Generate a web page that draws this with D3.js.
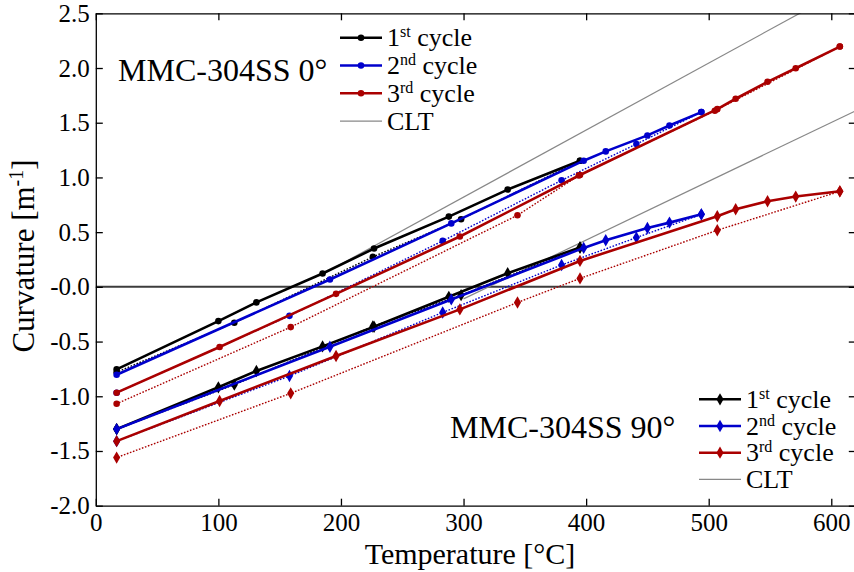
<!DOCTYPE html>
<html>
<head>
<meta charset="utf-8">
<script src="https://cdn.jsdelivr.net/npm/d3@7"></script>
<style>
  body { margin: 0; background: #fff; }
  text { font-family: "Liberation Serif", "Times New Roman", serif; fill: #000; }
</style>
</head>
<body>
<div id="chart"></div>
<script>
// Tick values / labels
let xTicks = [0, 100, 200, 300, 400, 500, 600];
let yTicks = [-2.0, -1.5, -1.0, -0.5, 0, 0.5, 1.0, 1.5, 2.0, 2.5];
let yTickLabels = ['-2.0', '-1.5', '-1.0', '-0.5', '-0.0', '0.5', '1.0', '1.5', '2.0', '2.5'];

// MMC-304SS 0° (circles)
let t0Heat1 = [17, 100, 131, 185, 227, 288, 336, 395];
let c0Heat1 = [-0.754, -0.313, -0.142, 0.122, 0.35, 0.642, 0.889, 1.153];
let t0Cool1 = [395, 298, 226, 113, 17];
let c0Cool1 = [1.153, 0.618, 0.274, -0.328, -0.78];
let t0Heat2 = [17, 191, 290, 398, 416, 450, 468, 494];
let c0Heat2 = [-0.803, 0.067, 0.58, 1.153, 1.238, 1.384, 1.475, 1.597];
let t0Cool2 = [494, 441, 380, 283, 158, 17];
let c0Cool2 = [1.597, 1.305, 0.974, 0.42, -0.265, -0.967];
let t0Heat3 = [17, 101, 196, 297, 395, 507, 522, 548, 571, 607];
let c0Heat3 = [-0.967, -0.55, -0.064, 0.46, 1.022, 1.624, 1.719, 1.874, 1.998, 2.196];
let t0Cool3 = [607, 505, 394, 344, 159, 17];
let c0Cool3 = [2.196, 1.61, 1.017, 0.654, -0.368, -1.068];
let t0Clt = [185, 620];
let c0Clt = [0.116, 2.78];

// MMC-304SS 90° (diamonds)
let t90Heat1 = [17, 100, 131, 185, 227, 288, 336, 395];
let c90Heat1 = [-1.30, -0.918, -0.769, -0.544, -0.365, -0.091, 0.125, 0.36];
let t90Cool1 = [395, 298, 226, 113, 17];
let c90Cool1 = [0.36, -0.076, -0.362, -0.894, -1.30];
let t90Heat2 = [17, 191, 290, 398, 416, 450, 468, 494];
let c90Heat2 = [-1.30, -0.547, -0.115, 0.356, 0.426, 0.538, 0.587, 0.663];
let t90Cool2 = [494, 441, 380, 283, 158, 17];
let c90Cool2 = [0.663, 0.45, 0.2, -0.234, -0.815, -1.41];
let t90Heat3 = [17, 101, 196, 297, 395, 507, 522, 548, 571, 607];
let c90Heat3 = [-1.41, -1.043, -0.632, -0.206, 0.237, 0.645, 0.709, 0.782, 0.825, 0.873];
let t90Cool3 = [607, 507, 395, 344, 159, 17];
let c90Cool3 = [0.873, 0.517, 0.077, -0.143, -0.973, -1.56];
let t90Clt = [300, 620];
let c90Clt = [-0.11, 1.61];

let legendLabels = [['1', 'st', ' cycle'], ['2', 'nd', ' cycle'], ['3', 'rd', ' cycle'], ['CLT', '', '']];

// colours
let black = '#000000';
let blue = '#0000cc';
let red = '#aa0000';
let gray = '#888888';

// Set up SVG
let svgWidth = 854;
let svgHeight = 572;
let margin = { top: 13.3, left: 95.8 };
let width = 760;
let height = 492.4;

let svg = d3.select('#chart').append('svg')
  .attr('width', svgWidth)
  .attr('height', svgHeight);

let g = svg.append('g')
  .attr('transform', `translate(${margin.left}, ${margin.top})`);

let x = d3.scaleLinear().domain([0, 620]).range([0, width]);
let y = d3.scaleLinear().domain([-2, 2.5]).range([height, 0]);

g.append('clipPath').attr('id', 'plotClip')
  .append('rect').attr('width', width).attr('height', height);

let plot = g.append('g').attr('clip-path', 'url(#plotClip)');

// zero line
plot.append('line')
  .attr('x1', 0).attr('x2', width)
  .attr('y1', y(0)).attr('y2', y(0))
  .attr('stroke', '#3c3c3c')
  .attr('stroke-width', 2);

let line = d3.line().x(d => x(d[0])).y(d => y(d[1]));
let zip = (a, b) => a.map((v, i) => [v, b[i]]);

let circleSym = d3.symbol().type(d3.symbolCircle).size(34);
let diamondSym = d3.symbol().type(d3.symbolDiamond).size(44);

function drawSeries(ts, cs, color, dotted, sym) {
  let pts = zip(ts, cs);
  plot.append('path')
    .datum(pts)
    .attr('fill', 'none')
    .attr('stroke', color)
    .attr('stroke-width', dotted ? 1.4 : 2.6)
    .attr('stroke-dasharray', dotted ? '1.6,1.6' : null)
    .attr('d', line);
  plot.selectAll(null)
    .data(pts)
    .enter()
    .append('path')
    .attr('transform', d => `translate(${x(d[0])}, ${y(d[1])})`)
    .attr('d', sym)
    .attr('fill', color);
}

function drawClt(ts, cs) {
  plot.append('path')
    .datum(zip(ts, cs))
    .attr('fill', 'none')
    .attr('stroke', gray)
    .attr('stroke-width', 1.2)
    .attr('d', line);
}

drawClt(t0Clt, c0Clt);
drawClt(t90Clt, c90Clt);

// 90° group
drawSeries(t90Heat1, c90Heat1, black, false, diamondSym);
drawSeries(t90Cool1, c90Cool1, black, true, diamondSym);
drawSeries(t90Heat2, c90Heat2, blue, false, diamondSym);
drawSeries(t90Cool2, c90Cool2, blue, true, diamondSym);
drawSeries(t90Heat3, c90Heat3, red, false, diamondSym);
drawSeries(t90Cool3, c90Cool3, red, true, diamondSym);

// 0° group
drawSeries(t0Heat1, c0Heat1, black, false, circleSym);
drawSeries(t0Cool1, c0Cool1, black, true, circleSym);
drawSeries(t0Heat2, c0Heat2, blue, false, circleSym);
drawSeries(t0Cool2, c0Cool2, blue, true, circleSym);
drawSeries(t0Heat3, c0Heat3, red, false, circleSym);
drawSeries(t0Cool3, c0Cool3, red, true, circleSym);

// Axes (box with inward ticks)
let bottomAxis = d3.axisBottom(x).tickValues(xTicks).tickSizeInner(-7).tickSizeOuter(0).tickPadding(8);
let leftAxis = d3.axisLeft(y).tickValues(yTicks).tickSizeInner(-7).tickSizeOuter(0).tickPadding(6)
  .tickFormat((d, i) => yTickLabels[i]);
let topAxis = d3.axisTop(x).tickValues(xTicks).tickSizeInner(-7).tickSizeOuter(0).tickFormat('');
let rightAxis = d3.axisRight(y).tickValues(yTicks).tickSizeInner(-7).tickSizeOuter(0).tickFormat('');

function styleAxis(sel) {
  sel.selectAll('path, line').attr('stroke', '#000').attr('stroke-width', 1.3);
  sel.selectAll('text').attr('font-size', '25px').attr('fill', '#000')
    .attr('font-family', '"Liberation Serif", "Times New Roman", serif');
}

g.append('g').attr('transform', `translate(0, ${height})`).call(bottomAxis).call(styleAxis);
g.append('g').call(leftAxis).call(styleAxis);
g.append('g').call(topAxis).call(styleAxis);
g.append('g').attr('transform', `translate(${width}, 0)`).call(rightAxis).call(styleAxis);

// Axis titles
svg.append('text')
  .attr('x', 470).attr('y', 564)
  .attr('text-anchor', 'middle')
  .attr('font-size', '30px')
  .text('Temperature [°C]');

let yTitle = svg.append('text')
  .attr('transform', 'translate(34, 256) rotate(-90)')
  .attr('text-anchor', 'middle')
  .attr('font-size', '31px');
yTitle.append('tspan').text('Curvature [m');
yTitle.append('tspan').attr('font-size', '20px').attr('dy', -11).text('-1');
yTitle.append('tspan').attr('dy', 11).text(']');

// Group annotations
svg.append('text').attr('x', 118).attr('y', 81).attr('font-size', '32px').text('MMC-304SS 0°');
svg.append('text').attr('x', 450).attr('y', 438).attr('font-size', '32px').text('MMC-304SS 90°');

// Legends
function drawLegend(lx, ly, step, sym) {
  let colors = [black, blue, red, gray];
  legendLabels.forEach((lab, i) => {
    let yy = ly + i * step;
    let isClt = i === 3;
    svg.append('line')
      .attr('x1', lx).attr('x2', lx + 42)
      .attr('y1', yy).attr('y2', yy)
      .attr('stroke', colors[i])
      .attr('stroke-width', isClt ? 1.2 : 2.6);
    if (!isClt) {
      svg.append('path')
        .attr('transform', `translate(${lx + 21}, ${yy})`)
        .attr('d', sym)
        .attr('fill', colors[i]);
    }
    let t = svg.append('text')
      .attr('x', lx + 47).attr('y', yy + 8.5)
      .attr('font-size', '26px');
    t.append('tspan').text(lab[0]);
    if (lab[1]) {
      t.append('tspan').attr('font-size', '16px').attr('dy', -9).text(lab[1]);
      t.append('tspan').attr('dy', 9).text(lab[2]);
    }
  });
}

drawLegend(340, 37.7, 27.8, circleSym);
drawLegend(699, 399.3, 26.7, diamondSym);
</script>
</body>
</html>
